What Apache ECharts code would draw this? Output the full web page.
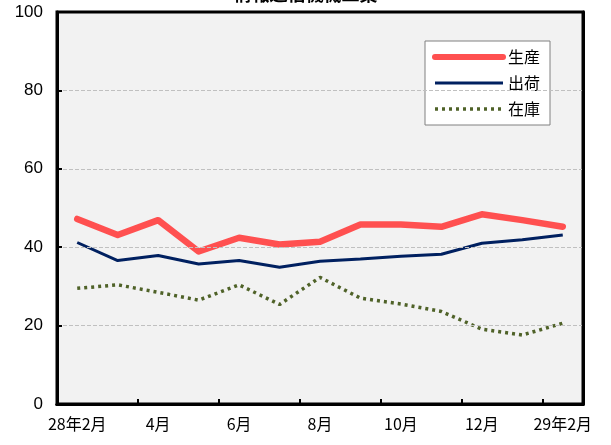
<!DOCTYPE html>
<html><head><meta charset="utf-8">
<script src="https://cdn.jsdelivr.net/npm/echarts@6/dist/echarts.min.js"></script>
<style>html,body{margin:0;padding:0;background:#fff}#c{width:611px;height:445px}</style>
</head><body><div id="c"></div>
<script>
const categories = ["28年2月","3月","4月","5月","6月","7月","8月","9月","10月","11月","12月","1月","29年2月"];
const production = [47.2, 43.1, 46.9, 38.9, 42.4, 40.7, 41.4, 45.8, 45.8, 45.2, 48.4, 46.9, 45.2];
const shipments  = [41.2, 36.6, 37.9, 35.7, 36.6, 34.9, 36.4, 37.0, 37.7, 38.2, 41.0, 41.9, 43.1];
const inventory  = [29.5, 30.4, 28.5, 26.5, 30.4, 25.4, 32.3, 27.0, 25.5, 23.6, 19.1, 17.6, 20.6];
const seriesNames = ["生産","出荷","在庫"];
const titleText = "情報通信機械工業";

const chart = echarts.init(document.getElementById('c'));
const jp = '"Noto Sans CJK JP", sans-serif';
const plain = { show: false };
chart.setOption({
  animation: false,
  backgroundColor: '#ffffff',
  title: { text: titleText, left: 'center', top: -20,
    textStyle: { fontFamily: jp, fontSize: 18, fontWeight: 'bold', color: '#000' } },
  grid: { left: 57, right: 28, top: 12, bottom: 41, show: true,
    backgroundColor: '#f2f2f2', borderColor: '#000', borderWidth: 3 },
  legend: {
    orient: 'vertical', left: 425, top: 41,
    data: [
      { name: seriesNames[0], lineStyle: { width: 6, cap: 'round' } },
      { name: seriesNames[1], lineStyle: { width: 3 } },
      { name: seriesNames[2], lineStyle: { width: 3.5, type: [3, 4] } }
    ],
    backgroundColor: '#ffffff', borderColor: '#808080', borderWidth: 1,
    padding: [8, 10, 8, 7], itemGap: 10, itemWidth: 68, itemHeight: 17,
    itemStyle: { opacity: 0 },
    textStyle: { fontFamily: jp, fontSize: 16, color: '#000' }
  },
  xAxis: [{
    type: 'category', data: categories, boundaryGap: true, z: 10,
    axisLine: { lineStyle: { color: '#000', width: 3 } },
    axisTick: { show: true, inside: true, length: 5, lineStyle: { color: '#000', width: 2 } },
    axisLabel: { interval: 1, margin: 12, color: '#000', fontFamily: jp, fontSize: 16 },
    splitLine: { show: false }
  }, {
    type: 'category', data: categories, position: 'top', z: 10,
    axisLine: { show: true, lineStyle: { color: '#000', width: 3 } },
    axisTick: plain, axisLabel: plain, splitLine: plain
  }],
  yAxis: [{
    type: 'value', min: 0, max: 100, interval: 20, z: 10,
    axisLine: { show: true, lineStyle: { color: '#000', width: 3 } },
    axisTick: { show: true, inside: true, length: 5, lineStyle: { color: '#000', width: 2 } },
    axisLabel: { margin: 14, color: '#000', fontFamily: '"Liberation Sans", Arial, sans-serif', fontSize: 17 },
    splitLine: { show: true, showMaxLine: false, showMinLine: false, lineStyle: { color: '#c0c0c0', type: 'dashed', width: 1 } }
  }, {
    type: 'value', min: 0, max: 100, interval: 20, position: 'right', z: 10,
    axisLine: { show: true, lineStyle: { color: '#000', width: 3 } },
    axisTick: plain, axisLabel: plain, splitLine: plain
  }],
  series: [
    { name: seriesNames[0], type: 'line', data: production, symbol: 'none',
      lineStyle: { color: '#ff5050', width: 6.5, cap: 'round', join: 'round' }, itemStyle: { color: '#ff5050' } },
    { name: seriesNames[1], type: 'line', data: shipments, symbol: 'none',
      lineStyle: { color: '#002060', width: 3 }, itemStyle: { color: '#002060' } },
    { name: seriesNames[2], type: 'line', data: inventory, symbol: 'none',
      lineStyle: { color: '#4f6228', width: 3.5, type: [3, 4] }, itemStyle: { color: '#4f6228' } }
  ]
});
</script></body></html>
